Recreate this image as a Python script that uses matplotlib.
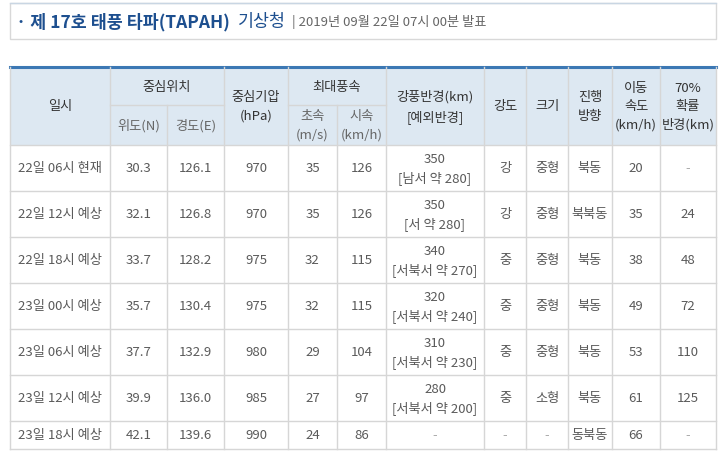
import matplotlib
matplotlib.use('Agg')
import matplotlib.pyplot as plt
from matplotlib.patches import Rectangle

plt.rcParams['font.family'] = ['Noto Sans CJK KR', 'DejaVu Sans']

times = ['22일 06시 현재', '22일 12시 예상', '22일 18시 예상', '23일 00시 예상',
         '23일 06시 예상', '23일 12시 예상', '23일 18시 예상']
lat = ['30.3', '32.1', '33.7', '35.7', '37.7', '39.9', '42.1']
lon = ['126.1', '126.8', '128.2', '130.4', '132.9', '136.0', '139.6']
pressure = ['970', '970', '975', '975', '980', '985', '990']
wind_ms = ['35', '35', '32', '32', '29', '27', '24']
wind_kmh = ['126', '126', '115', '115', '104', '97', '86']
radius = ['350', '350', '340', '320', '310', '280', '-']
radius_ex = ['[남서 약 280]', '[서 약 280]', '[서북서 약 270]', '[서북서 약 240]',
             '[서북서 약 230]', '[서북서 약 200]', '']
strength = ['강', '강', '중', '중', '중', '중', '-']
size = ['중형', '중형', '중형', '중형', '중형', '소형', '-']
direction = ['북동', '북북동', '북동', '북동', '북동', '북동', '동북동']
speed = ['20', '35', '38', '49', '53', '61', '66']
prob = ['-', '24', '48', '72', '110', '125', '-']

cols = [10, 110, 167, 224, 288, 337, 386, 484, 526, 568, 612, 660, 716]
rows = [146, 192, 238, 284, 330, 376, 422, 450]
top, mid = 68, 106
grid = '#d6d6d6'
hdr_bg = '#dde8f2'
txt = '#5a5a5a'
hdr_txt = '#333333'

fig = plt.figure(figsize=(7.2, 4.56), dpi=100)
ax = fig.add_axes([0, 0, 1, 1])
ax.set_xlim(0, 720)
ax.set_ylim(456, 0)
ax.axis('off')

# title box
ax.add_patch(Rectangle((10, 4), 706, 36, fc='white', ec='#d8d8d8', lw=1))
ax.plot([10, 716], [4, 4], color='#c9d6e3', lw=1)
ax.text(16, 22, '· 제 17호 태풍 타파(TAPAH)', color='#1d4f8f', fontsize=12.5,
        fontweight='bold', va='center')
ax.text(238, 22, '기상청', color='#1d4f8f', fontsize=12.5, va='center')
ax.text(292, 22, '| 2019년 09월 22일 07시 00분 발표', color='#666666',
        fontsize=9.5, va='center')

# header
ax.add_patch(Rectangle((cols[0], top), cols[-1] - cols[0], rows[0] - top,
                       fc=hdr_bg, ec='none'))
ax.plot([cols[0], cols[-1]], [top, top], color='#3c78b4', lw=2.2)
for y in rows:
    ax.plot([cols[0], cols[-1]], [y, y], color=grid, lw=1)
ax.plot([cols[1], cols[3]], [mid, mid], color=grid, lw=1)
ax.plot([cols[4], cols[6]], [mid, mid], color=grid, lw=1)
for i, x in enumerate(cols):
    if i in (2, 5):
        ax.plot([x, x], [mid, rows[-1]], color=grid, lw=1)
    else:
        ax.plot([x, x], [top, rows[-1]], color=grid, lw=1)

def cx(i, j=None):
    return (cols[i] + cols[(j if j else i + 1)]) / 2

hy = (top + rows[0]) / 2
hs = dict(ha='center', va='center', fontsize=9.5, color=hdr_txt, linespacing=1.6)
ax.text(cx(0), hy, '일시', **hs)
ax.text(cx(1, 3), (top + mid) / 2, '중심위치', **hs)
ax.text(cx(1), (mid + rows[0]) / 2, '위도(N)', **{**hs, 'color': '#666'})
ax.text(cx(2), (mid + rows[0]) / 2, '경도(E)', **{**hs, 'color': '#666'})
ax.text(cx(3), hy, '중심기압\n(hPa)', **hs)
ax.text(cx(4, 6), (top + mid) / 2, '최대풍속', **hs)
ax.text(cx(4), (mid + rows[0]) / 2, '초속\n(m/s)', **{**hs, 'color': '#666'})
ax.text(cx(5), (mid + rows[0]) / 2, '시속\n(km/h)', **{**hs, 'color': '#666'})
ax.text(cx(6), hy, '강풍반경(km)\n[예외반경]', **hs)
ax.text(cx(7), hy, '강도', **hs)
ax.text(cx(8), hy, '크기', **hs)
ax.text(cx(9), hy, '진행\n방향', **hs)
ax.text(cx(10), hy, '이동\n속도\n(km/h)', **{**hs, 'linespacing': 1.5})
ax.text(cx(11), hy, '70%\n확률\n반경(km)', **{**hs, 'linespacing': 1.5})

ds = dict(ha='center', va='center', fontsize=9.5, color=txt)
for r in range(len(times)):
    y = (rows[r] + rows[r + 1]) / 2
    vals = [times[r], lat[r], lon[r], pressure[r], wind_ms[r], wind_kmh[r], None,
            strength[r], size[r], direction[r], speed[r], prob[r]]
    for c, v in enumerate(vals):
        if v is None:
            continue
        col = '#aaaaaa' if v == '-' else txt
        ax.text(cx(c), y, v, **{**ds, 'color': col})
    if radius_ex[r]:
        ax.text(cx(6), y - 9, radius[r], **ds)
        ax.text(cx(6), y + 9, radius_ex[r], **ds)
    else:
        ax.text(cx(6), y, radius[r], **{**ds, 'color': '#aaaaaa'})

fig.savefig('out.png', dpi=100, facecolor='white')
